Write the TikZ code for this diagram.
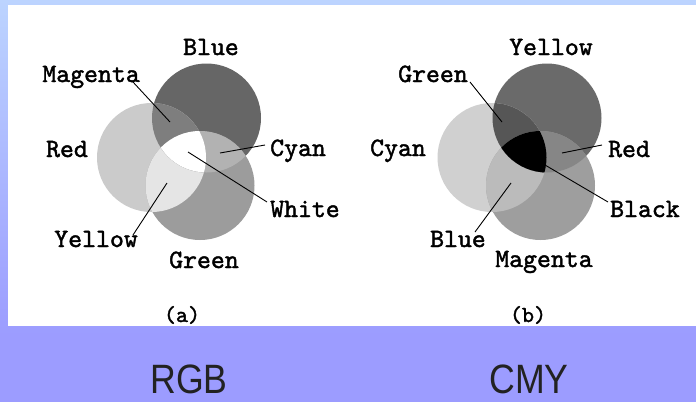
\documentclass[tikz,border=0pt]{standalone}
\usepackage{fontspec}
\usepackage{graphicx}
\newfontfamily\capfont{Liberation Sans}
\newfontfamily\labfont{lmmono10-regular}[Extension=.otf, FakeBold=1.6]
\definecolor{bgtop}{RGB}{188,212,255}
\definecolor{bgbot}{RGB}{156,156,255}
\definecolor{captxt}{RGB}{34,34,34}
% RGB panel greys
\definecolor{aB}{RGB}{102,102,102}
\definecolor{aR}{RGB}{203,203,203}
\definecolor{aG}{RGB}{156,156,156}
\definecolor{aM}{RGB}{126,126,126}
\definecolor{aC}{RGB}{178,178,178}
\definecolor{aY}{RGB}{229,229,229}
\definecolor{aW}{RGB}{255,255,255}
% CMY panel greys
\definecolor{bY}{RGB}{106,106,106}
\definecolor{bC}{RGB}{208,208,208}
\definecolor{bM}{RGB}{158,158,158}
\definecolor{bG}{RGB}{86,86,86}
\definecolor{bR}{RGB}{134,134,134}
\definecolor{bBl}{RGB}{187,187,187}
\definecolor{bK}{RGB}{0,0,0}
\begin{document}
\begin{tikzpicture}[x=1pt,y=-1pt,
  lab/.style={font=\fontsize{26.5}{26.5}\selectfont\labfont, inner sep=0pt, text=black},
  captionlab/.style={font=\fontsize{23}{23}\selectfont\labfont, inner sep=0pt, anchor=base, text=black},
  bigcap/.style={font=\fontsize{41}{41}\selectfont\capfont, inner sep=0pt, anchor=base, text=captxt},
  leader/.style={draw=black, line width=0.9pt}]
\useasboundingbox (0,0) rectangle (696,402);
\shade[top color=bgtop, bottom color=bgbot] (0,0) rectangle (696,335);
\fill[bgbot] (0,335) rectangle (696,402);
\fill[white] (8,5) rectangle (696,326);

\begin{scope}
\clip (8,5) rectangle (696,326);
% panel (a): top = Blue, left = Red, bottom = Green
\begin{scope}
  \fill[aB] (206.5,118) circle (54.5pt);
  \fill[aR] (151.5,157.5) circle (54.5pt);
  \fill[aG] (200,185.5) circle (54.5pt);
  \begin{scope}\clip (151.5,157.5) circle (54.5pt);
    \fill[aY] (200,185.5) circle (54.5pt);
  \end{scope}
  \begin{scope}\clip (206.5,118) circle (54.5pt);
    \fill[aM] (151.5,157.5) circle (54.5pt);
    \fill[aC] (200,185.5) circle (54.5pt);
    \clip (151.5,157.5) circle (54.5pt);
    \fill[aW] (200,185.5) circle (54.5pt);
  \end{scope}
\end{scope}
% panel (b): top = Yellow, left = Cyan, bottom = Magenta
\begin{scope}[xshift=340.5pt]
  \fill[bY] (206.5,118) circle (54.5pt);
  \fill[bC] (151.5,157.5) circle (54.5pt);
  \fill[bM] (200,185.5) circle (54.5pt);
  \begin{scope}\clip (151.5,157.5) circle (54.5pt);
    \fill[bBl] (200,185.5) circle (54.5pt);
  \end{scope}
  \begin{scope}\clip (206.5,118) circle (54.5pt);
    \fill[bG] (151.5,157.5) circle (54.5pt);
    \fill[bR] (200,185.5) circle (54.5pt);
    \clip (151.5,157.5) circle (54.5pt);
    \fill[bK] (200,185.5) circle (54.5pt);
  \end{scope}
\end{scope}

% labels (a)
\node[lab, anchor=base] (aBlue) at (211,55) {Blue};
\node[lab, anchor=base east] (aMag) at (140,82) {Magenta};
\node[lab, anchor=base] (aRed) at (67,157) {Red};
\node[lab, anchor=base west] (aCyan) at (270,156) {Cyan};
\node[lab, anchor=base west] (aWhite) at (270,217) {White};
\node[lab, anchor=base east] (aYel) at (138,247) {Yellow};
\node[lab, anchor=base] (aGreen) at (204,268) {Green};
\node[captionlab] (aCap) at (182,322) {(a)};
% labels (b)
\node[lab, anchor=base] (bYel) at (551,55) {Yellow};
\node[lab, anchor=base east] (bGreen) at (468,82) {Green};
\node[lab, anchor=base] (bCyan) at (398,156) {Cyan};
\node[lab, anchor=base west] (bRed) at (608,157) {Red};
\node[lab, anchor=base west] (bBlack) at (610,217) {Black};
\node[lab, anchor=base east] (bBlue) at (486,247) {Blue};
\node[lab, anchor=base] (bMag) at (544,267) {Magenta};
\node[captionlab] (bCap) at (528,322) {(b)};

% region points
\coordinate (pMagA) at (170,122);
\coordinate (pCyA) at (220,153);
\coordinate (pWhA) at (188,152);
\coordinate (pYelA) at (167,183);
\coordinate (pGrB) at (502,122);
\coordinate (pRedB) at (562,153);
\coordinate (pBlkB) at (545,165);
\coordinate (pBluB) at (511,183);

% leaders
\draw[leader] ([shift={(-7,0)}]aMag.base east) -- (pMagA);
\draw[leader] ([shift={(-5,-11)}]aCyan.base west) -- (pCyA);
\draw[leader] ([shift={(-3,-15)}]aWhite.base west) -- (pWhA);
\draw[leader] ([shift={(-5,-12)}]aYel.base east) -- (pYelA);
\draw[leader] ([shift={(2,0)}]bGreen.base east) -- (pGrB);
\draw[leader] ([shift={(-6,-12)}]bRed.base west) -- (pRedB);
\draw[leader] ([shift={(-2,-15)}]bBlack.base west) -- (pBlkB);
\draw[leader] ([shift={(-11,-15)}]bBlue.base east) -- (pBluB);
\end{scope}

% bottom titles
\node[bigcap] (tRGB) at (189,393) {\scalebox{0.87}[1]{RGB}};
\node[bigcap] (tCMY) at (529,393) {\scalebox{0.87}[1]{CMY}};
\end{tikzpicture}
\end{document}
